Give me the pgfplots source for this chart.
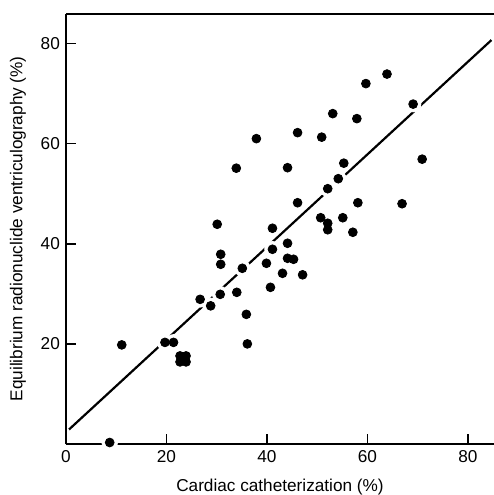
\documentclass[border=0pt]{standalone}
\usepackage{fontspec}
\setmainfont{Liberation Sans}
\usepackage{pgfplots}
\pgfplotsset{compat=1.18}

\pgfplotstableread{
x y
8.7 0.3
11.1 19.8
19.7 20.3
21.4 20.3
22.7 17.6
23.9 17.6
22.7 16.4
23.9 16.4
26.7 28.9
28.8 27.6
30.7 29.9
30.8 35.9
30.8 37.9
30.1 43.9
34.0 30.3
35.1 35.1
35.9 25.9
36.1 20.0
33.9 55.1
37.9 61.0
39.9 36.1
40.7 31.3
41.1 38.9
41.1 43.1
43.1 34.1
44.1 37.1
45.3 36.9
44.1 40.1
47.1 33.8
44.1 55.2
46.1 48.2
46.1 62.2
50.9 61.3
50.7 45.2
52.1 44.1
52.1 42.8
52.1 51.0
53.1 66.0
54.2 53.0
55.3 56.1
55.1 45.2
57.1 42.3
57.9 65.0
58.1 48.2
59.7 72.0
63.9 73.9
66.9 48.0
69.1 67.9
70.9 56.9
}\pts

\begin{document}
\fontsize{8.6}{10}\selectfont
\begin{tikzpicture}
\useasboundingbox (-33pt,-25.5pt) rectangle (214pt,222pt);
\begin{axis}[
    scale only axis,
    width=214pt, height=215.25pt,
    xmin=0, xmax=85.2, ymin=0, ymax=86,
    axis lines=left,
    axis line style={-, line width=1pt},
    xtick={0,20,40,60,80},
    ytick={20,40,60,80},
    tick align=inside,
    major tick length=5pt,
    tick style={line width=0.8pt, black},
    /pgf/number format/assume math mode=true,
    ticklabel style={font=\fontsize{8.6}{10}\selectfont},
    label style={font=\fontsize{8.6}{10}\selectfont},
    xlabel={Cardiac catheterization (\%)},
    ylabel={Equilibrium radionuclide ventriculography (\%)},
    xlabel style={at={(axis description cs:0.5,0)}, anchor=center, yshift=-21.5pt},
    ylabel style={at={(axis description cs:0,0.5)}, anchor=center, rotate=0, yshift=24pt},
    clip=false,
]
\addplot[black, line width=1.1pt] coordinates {(0.6,2.9) (84.7,80.7)};
\addplot[only marks, mark=*, mark size=3.9pt, mark options={fill=white, draw=white}] table[x=x,y=y] {\pts};
\addplot[only marks, mark=*, mark size=2.2pt, mark options={fill=black, draw=black}] table[x=x,y=y] {\pts};
\draw[line width=1pt] (rel axis cs:0,1) -- (rel axis cs:1,1);
\end{axis}
\end{tikzpicture}
\end{document}
